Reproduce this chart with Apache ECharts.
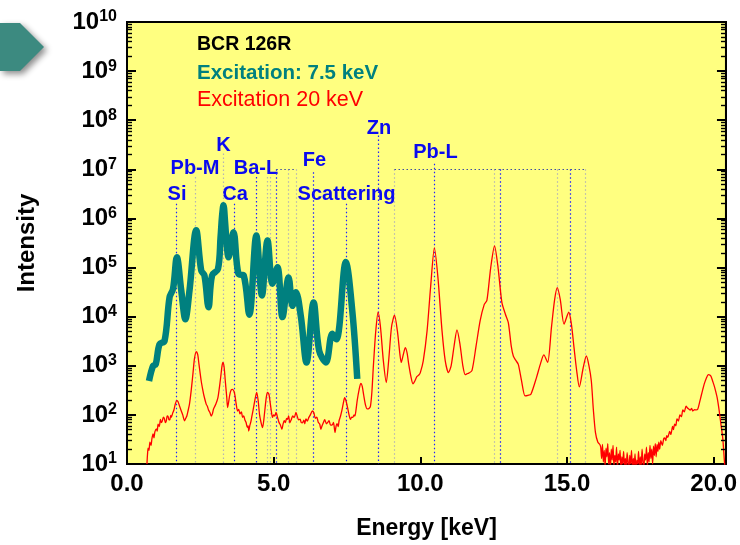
<!DOCTYPE html>
<html><head><meta charset="utf-8">
<script src="https://cdn.jsdelivr.net/npm/echarts@6/dist/echarts.min.js"></script>
<style>html,body{margin:0;padding:0;background:#fff}#c{width:740px;height:545px}</style>
</head><body><div id="c"></div>
<script>
// ---------- data ----------
const tealEnergy = [0.75,0.89,0.98,1.11,1.28,1.45,1.57,1.70,1.85,1.99,2.13,2.36,2.53,2.64,2.78,2.90,3.10,3.19,3.24,3.29,3.34,3.40,3.46,3.63,3.80,3.98,4.17,4.41,4.60,4.79,4.96,5.13,5.30,5.51,5.64,5.76,5.93,6.12,6.36,6.55,6.78,7.00,7.14,7.46,7.68,7.85];
const tealIntensity = [490,1000,1070,2750,3200,24500,37000,162000,34000,8900,34000,575000,87000,69000,15500,69000,93000,417000,1100000,1860000,900000,300000,162000,525000,74000,69000,11000,447000,27000,355000,47000,102000,9800,63000,16600,31600,9800,1170,19500,2040,1170,4470,3470,129000,13200,540];

const redEnergy = [0.68,0.70,0.72,0.75,0.78,0.82,0.85,0.89,0.92,0.95,1.00,1.03,1.06,1.10,1.14,1.17,1.20,1.24,1.27,1.31,1.34,1.37,1.40,1.43,1.46,1.49,1.51,1.56,1.60,1.65,1.70,1.74,1.78,1.85,1.90,1.96,2.00,2.04,2.08,2.13,2.19,2.25,2.30,2.36,2.41,2.45,2.53,2.58,2.62,2.70,2.74,2.78,2.83,2.87,2.91,2.95,3.03,3.10,3.16,3.20,3.24,3.27,3.31,3.35,3.40,3.43,3.47,3.50,3.55,3.60,3.65,3.68,3.72,3.77,3.81,3.85,3.90,3.94,3.98,4.02,4.06,4.10,4.13,4.15,4.19,4.22,4.26,4.30,4.36,4.42,4.47,4.52,4.57,4.62,4.66,4.70,4.75,4.79,4.84,4.88,4.92,4.96,5.00,5.04,5.08,5.13,5.18,5.23,5.28,5.32,5.36,5.40,5.44,5.47,5.51,5.55,5.60,5.65,5.70,5.76,5.80,5.85,5.90,5.94,5.98,6.03,6.06,6.10,6.15,6.20,6.25,6.32,6.37,6.42,6.47,6.52,6.57,6.61,6.65,6.70,6.74,6.80,6.84,6.89,6.94,7.00,7.04,7.09,7.13,7.16,7.20,7.23,7.28,7.33,7.38,7.42,7.47,7.52,7.57,7.62,7.66,7.70,7.74,7.77,7.81,7.85,7.91,7.97,8.02,8.07,8.13,8.19,8.25,8.30,8.35,8.40,8.48,8.56,8.64,8.74,8.84,8.92,9.02,9.12,9.22,9.30,9.35,9.42,9.49,9.55,9.60,9.68,9.75,9.82,9.88,9.95,10.00,10.10,10.23,10.35,10.48,10.60,10.74,10.85,10.96,11.05,11.15,11.25,11.35,11.45,11.53,11.60,11.65,11.76,11.90,12.04,12.18,12.27,12.40,12.53,12.65,12.78,12.90,13.00,13.10,13.17,13.25,13.34,13.45,13.57,13.67,13.77,13.96,14.10,14.21,14.34,14.47,14.58,14.67,14.77,14.90,15.06,15.15,15.24,15.33,15.42,15.55,15.66,15.75,15.83,15.90,15.97,16.05,16.12,16.15,16.18,16.21,16.24,16.27,16.30,16.33,16.36,16.39,16.42,16.45,16.48,16.51,16.54,16.57,16.60,16.63,16.66,16.69,16.72,16.75,16.78,16.81,16.84,16.87,16.90,16.93,16.96,16.99,17.02,17.05,17.08,17.11,17.14,17.17,17.20,17.23,17.26,17.29,17.32,17.35,17.38,17.41,17.44,17.47,17.50,17.53,17.56,17.59,17.62,17.65,17.68,17.71,17.74,17.77,17.80,17.83,17.86,17.89,17.92,17.95,17.98,18.01,18.04,18.07,18.10,18.13,18.16,18.20,18.25,18.30,18.33,18.37,18.40,18.44,18.50,18.54,18.60,18.63,18.67,18.71,18.75,18.80,18.85,18.90,18.95,19.00,19.06,19.10,19.15,19.20,19.25,19.29,19.35,19.40,19.46,19.52,19.58,19.63,19.68,19.75,19.82,19.88,19.92,19.97,20.02,20.07,20.12,20.19,20.25,20.31,20.36,20.40];
const redIntensity = [10,16,21,19,28,24,33,41,34,45,52,47,65,58,81,70,74,90,85,70,76,95,93,80,79,98,89,110,126,170,195,185,158,120,100,76,85,95,120,166,320,710,1400,1950,1700,1120,490,330,251,166,150,126,110,95,105,132,166,224,400,630,1000,1170,950,500,230,141,190,251,320,331,300,251,170,120,130,105,115,89,95,79,70,56,60,47,62,71,95,126,200,288,200,100,70,55,75,126,230,288,260,178,120,89,100,95,112,90,71,62,51,65,76,70,85,81,95,69,80,95,88,112,95,79,82,70,69,78,66,83,75,89,100,120,110,85,90,71,65,51,60,71,80,66,70,76,62,63,70,44,60,66,58,76,95,126,180,224,190,141,100,81,90,89,100,95,130,200,320,437,380,251,160,132,135,151,300,1000,5000,12300,6300,1260,457,1260,6300,10700,5000,1800,1170,1700,2340,1800,1120,600,427,500,600,650,724,1260,5130,39800,251000,63000,5130,1260,724,1000,2500,5370,2800,1000,660,690,708,794,2510,8300,17800,21400,100000,275000,100000,19500,11200,7600,2510,1580,1300,1070,500,245,251,263,575,1120,1660,1170,6000,22400,38900,22400,7080,12300,7080,2340,800,372,891,1580,1000,490,126,44,28,25,22,13,25,11,19,9,21,14,26,10,17,8,20,12,24,9,15,11,22,8,16,12,19,7,14,10,18,9,13,8,17,11,7,15,10,19,8,13,9,16,7,12,10,18,8,14,9,20,11,8,16,12,22,9,17,11,24,13,20,10,23,15,26,14,25,18,28,20,30,24,33,34,30,38,35,46,40,58,50,65,60,83,75,100,92,126,115,151,140,132,125,135,120,128,126,132,180,251,330,427,560,661,640,589,480,389,300,224,120,63,34,13,6];

// element-line energies (keV) and where each dotted line starts (intensity)
const markerEnergy = [1.68,2.34,3.29,3.66,4.42,4.77,4.87,5.09,5.51,5.76,6.36,7.46,8.56,9.12,10.48,12.52,12.71,14.67,15.12,15.61];
const markerTop    = [2.0e6,7e6,2.1e7,2.0e6,7e6,7e6,7e6,1e7,1e7,1e7,8.7e6,2.0e6,4.9e7,1e7,1.3e7,1e7,1e7,1e7,1e7,1e7];
const markerKind   = ['b','g','g','b','b','g','g','b','g','g','b','b','b','g','b','g','b','g','b','g'];
const bracketLines = [[5.09,5.76,1e7],[9.12,15.61,1e7]];

const xTickLabels = [0,5,10,15,20];
const X_MIN = 0, X_MAX = 20.42, Y_MIN = 10, Y_MAX = 1e10;

// ---------- build ----------
const teal = '#00807F', red = '#FF0000';
const tealData = tealEnergy.map((e,i)=>[e,tealIntensity[i]]);
const redData = redEnergy.map((e,i)=>[e,redIntensity[i]]);

const markerLines = markerEnergy.map((e,i)=>[
  {coord:[e,markerTop[i]], lineStyle:{color: markerKind[i]==='b' ? '#2020FF' : '#B4B4B4'}},
  {coord:[e,Y_MIN]}
]);
bracketLines.forEach(b=>markerLines.push([
  {coord:[b[0],b[2]], lineStyle:{color:'#4050A0'}},{coord:[b[1],b[2]]}
]));

// log-spaced minor ticks on both vertical axes
const minorTicks = [];
for (let d = 1; d < 10; d++) {
  for (let k = 2; k <= 9; k++) {
    const v = k * Math.pow(10, d);
    minorTicks.push([{coord:[X_MIN, v]},{coord:[X_MIN+0.17, v]}]);
    minorTicks.push([{coord:[X_MAX-0.17, v]},{coord:[X_MAX, v]}]);
  }
}

const font = 'Liberation Sans, Arial, sans-serif';
const yLabel = {
  show:true, margin:10, fontFamily:font,
  formatter: v => '{b|10}{s|' + Math.round(Math.log10(v)) + '}',
  rich:{
    b:{fontSize:24, fontWeight:'bold', color:'#000', fontFamily:font, lineHeight:26},
    s:{fontSize:16, fontWeight:'bold', color:'#000', fontFamily:font, verticalAlign:'top', lineHeight:16}
  }
};

const chart = echarts.init(document.getElementById('c'), null, {renderer:'canvas'});
chart.setOption({
  animation:false,
  backgroundColor:'#FFFFFF',
  grid:{left:127, right:12, top:22, bottom:81, show:true, backgroundColor:'#FFFF80', borderColor:'#000', borderWidth:2},
  xAxis:{
    type:'value', min:X_MIN, max:X_MAX, interval:5,
    name:'Energy [keV]', nameLocation:'middle', nameGap:53,
    nameTextStyle:{fontSize:23, fontWeight:'bold', color:'#000', fontFamily:font},
    axisLine:{lineStyle:{color:'#000', width:2}},
    axisTick:{inside:true, length:7, lineStyle:{color:'#000', width:2}},
    axisLabel:{fontSize:24, fontWeight:'bold', color:'#000', fontFamily:font, margin:8,
      formatter: v => xTickLabels.indexOf(v) >= 0 ? v.toFixed(1) : ''},
    splitLine:{show:false}
  },
  yAxis:[{
    type:'log', logBase:10, min:Y_MIN, max:Y_MAX,
    name:'Intensity', nameLocation:'middle', nameGap:88, nameRotate:90,
    nameTextStyle:{fontSize:24, fontWeight:'bold', color:'#000', fontFamily:font},
    axisLine:{lineStyle:{color:'#000', width:2}},
    axisTick:{inside:true, length:9, lineStyle:{color:'#000', width:2}},
    axisLabel:yLabel,
    splitLine:{show:false}, minorTick:{show:false}
  },{
    type:'log', logBase:10, min:Y_MIN, max:Y_MAX, position:'right',
    axisLine:{lineStyle:{color:'#000', width:2}},
    axisTick:{inside:true, length:9, lineStyle:{color:'#000', width:2}},
    axisLabel:{show:false}, splitLine:{show:false}
  }],
  series:[{
    type:'line', name:'Excitation 20 keV', data:redData, showSymbol:false, smooth:0.25,
    lineStyle:{color:red, width:1.3}, z:3, clip:true,
    markLine:{silent:true, symbol:['none','none'], label:{show:false}, animation:false,
      lineStyle:{type:[1.5,2.5], width:1.2}, data:markerLines, z:1}
  },{
    type:'line', name:'Excitation: 7.5 keV', data:tealData, showSymbol:false, smooth:0.35,
    lineStyle:{color:teal, width:6.5}, z:4, clip:true,
    markLine:{silent:true, symbol:['none','none'], label:{show:false}, animation:false,
      lineStyle:{type:'solid', color:'#000', width:1.4}, data:minorTicks}
  }],
  graphic:[
    {type:'polygon', shape:{points:[[0,23],[20,23],[44,47],[20,71],[0,71]]},
     style:{fill:'#3C8A80', shadowBlur:6, shadowOffsetX:3, shadowOffsetY:3, shadowColor:'rgba(0,0,0,0.45)'}},
    {type:'text', left:197, top:35, style:{text:'BCR 126R', font:'bold 19.5px '+font, fill:'#000'}},
    {type:'text', left:197, top:63, style:{text:'Excitation: 7.5 keV', font:'bold 20.5px '+font, fill:teal}},
    {type:'text', left:197, top:89, style:{text:'Excitation 20 keV', font:'21.5px '+font, fill:red}},
    ...[['Si',177,194],['Pb-M',195,168],['K',223.5,145],['Ca',235,194],['Ba-L',256,168],['Fe',314.5,160],['Scattering',346.5,194],['Zn',379,128],['Pb-L',435.5,152]]
      .map(t=>({type:'text', x:t[1], y:t[2], style:{text:t[0], font:'bold 20px '+font, fill:'#0A0AF0', textAlign:'center', textVerticalAlign:'middle'}}))
  ]
});
</script>
</body></html>
